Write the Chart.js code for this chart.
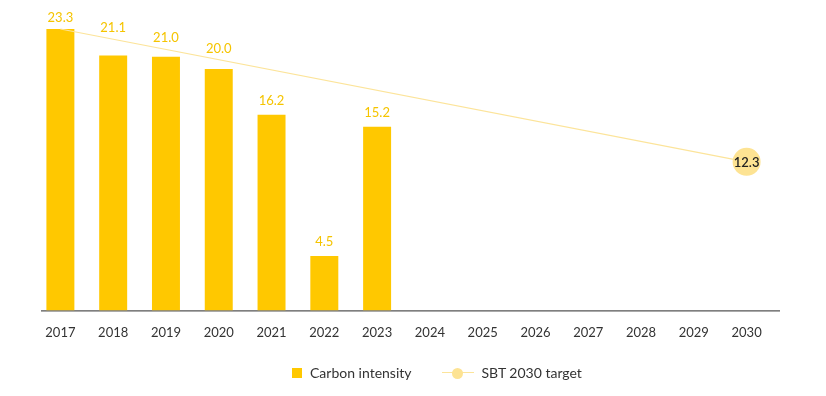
<!DOCTYPE html>
<html>
<head>
<meta charset="utf-8">
<script src="https://cdn.jsdelivr.net/npm/chart.js@4"></script>
<style>
  html, body { margin: 0; padding: 0; background: #fff; }
  #wrap { position: relative; width: 826px; height: 396px; }
  #legend {
    position: absolute; top: 364px; left: 292px;
    display: flex; align-items: center;
    font-family: Lato, 'Noto Sans', sans-serif; font-size: 14px; color: #333;
  }
  .item { display: flex; align-items: center; margin-right: 30px; }
  .sq { width: 10px; height: 10px; background: #ffc800; margin-right: 8px; }
  .ln { position: relative; width: 32px; height: 12px; margin-right: 8px; }
  .ln:before { content: ''; position: absolute; left: 0; right: 0; top: 5.5px; height: 1px; background: #fce49a; }
  .ln:after { content: ''; position: absolute; left: 10px; top: 1px; width: 11px; height: 11px; border-radius: 50%; background: #fde393; }
</style>
</head>
<body>
<div id="wrap">
  <canvas id="chart" width="826" height="396"></canvas>
  <div id="legend">
    <div class="item"><span class="sq"></span>Carbon intensity</div>
    <div class="item"><span class="ln"></span>SBT 2030 target</div>
  </div>
</div>
<script>
// ============================================================
// Data
// ============================================================
const years = ['2017', '2018', '2019', '2020', '2021', '2022', '2023',
  '2024', '2025', '2026', '2027', '2028', '2029', '2030'];
const carbonIntensity = [23.3, 21.1, 21.0, 20.0, 16.2, 4.5, 15.2,
  null, null, null, null, null, null, null];
const sbtTarget = [23.3, null, null, null, null, null, null,
  null, null, null, null, null, null, 12.3];

// ============================================================
// Value labels (above bars, lifted over the target line when close) + axis line
// ============================================================
const valueLabels = {
  id: 'valueLabels',
  beforeDatasetsDraw(chart) {
    const { ctx, chartArea } = chart;
    ctx.save();
    ctx.strokeStyle = '#555';
    ctx.lineWidth = 1.2;
    ctx.beginPath();
    ctx.moveTo(chartArea.left + 7, chartArea.bottom + 0.5);
    ctx.lineTo(chartArea.right + 7, chartArea.bottom + 0.5);
    ctx.stroke();
    ctx.restore();
  },
  afterDatasetsDraw(chart) {
    const { ctx } = chart;
    const pts = chart.getDatasetMeta(1).data;
    const first = pts[0];
    const last = pts[pts.length - 1];
    const lineY = x => first.y + (x - first.x) / (last.x - first.x) * (last.y - first.y);

    ctx.save();
    ctx.textAlign = 'center';
    ctx.textBaseline = 'alphabetic';
    ctx.font = '13px Lato, "Noto Sans", sans-serif';
    ctx.fillStyle = '#f5c400';
    chart.getDatasetMeta(0).data.forEach((bar, i) => {
      const v = carbonIntensity[i];
      if (v == null) return;
      const ly = lineY(bar.x);
      const y = (bar.y - ly) < 25 ? ly - 7 : bar.y - 10;
      ctx.fillText(v.toFixed(1), bar.x, y);
    });

    ctx.fillStyle = '#222';
    ctx.textBaseline = 'middle';
    ctx.font = '600 13px Lato, "Noto Sans", sans-serif';
    ctx.fillText(sbtTarget[sbtTarget.length - 1].toFixed(1), last.x, last.y + 1);
    ctx.restore();
  }
};

new Chart(document.getElementById('chart'), {
  data: {
    labels: years,
    datasets: [
      {
        type: 'bar',
        label: 'Carbon intensity',
        data: carbonIntensity,
        backgroundColor: '#ffc800',
        barPercentage: 0.53,
        categoryPercentage: 1,
        order: 2
      },
      {
        type: 'line',
        label: 'SBT 2030 target',
        data: sbtTarget,
        spanGaps: true,
        borderColor: '#fce49a',
        borderWidth: 1.2,
        backgroundColor: '#fde393',
        pointRadius: sbtTarget.map((v, i) => i === sbtTarget.length - 1 ? 14 : 0),
        pointBorderWidth: 0,
        order: 1
      }
    ]
  },
  options: {
    responsive: false,
    animation: false,
    layout: { autoPadding: false, padding: { left: 34, right: 53, top: 8.5, bottom: 48 } },
    scales: {
      x: {
        grid: { display: false },
        border: { display: false },
        ticks: {
          color: '#333',
          padding: 7,
          font: { family: 'Lato, "Noto Sans", sans-serif', size: 13 }
        }
      },
      y: {
        display: false,
        min: 0,
        max: 25
      }
    },
    plugins: {
      legend: { display: false },
      tooltip: { enabled: false }
    }
  },
  plugins: [valueLabels]
});
</script>
</body>
</html>
